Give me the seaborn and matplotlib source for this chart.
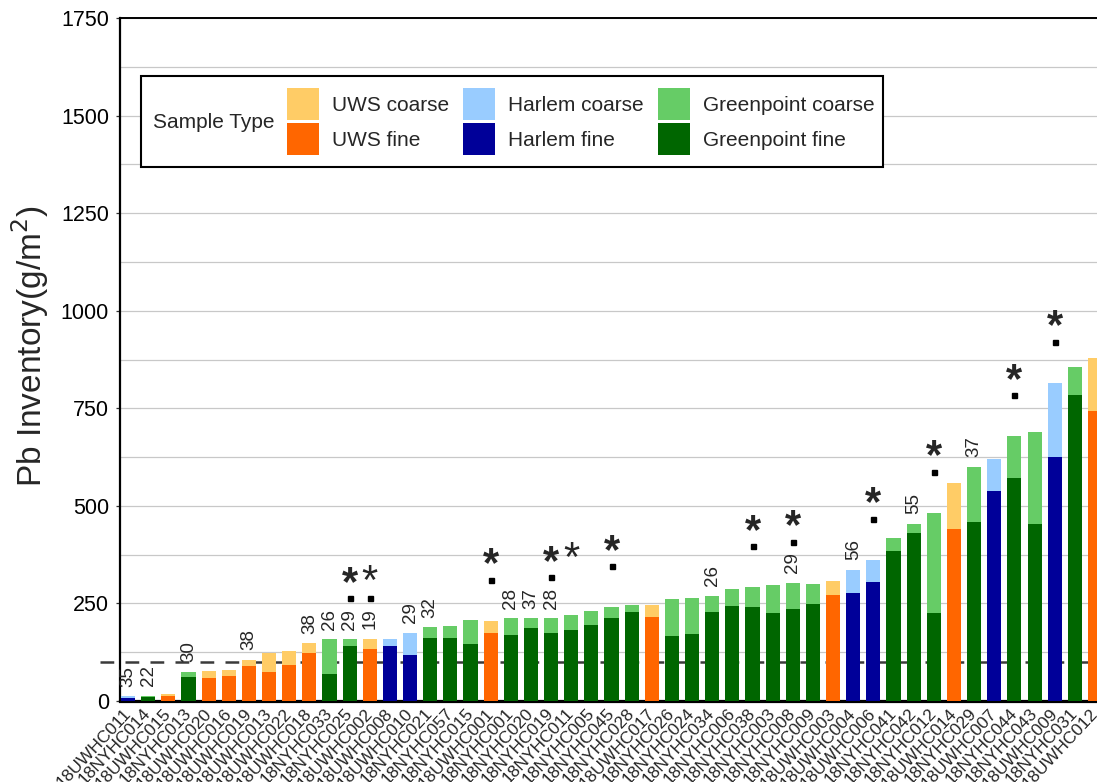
import matplotlib
matplotlib.use("Agg")
import matplotlib.pyplot as plt
import matplotlib.transforms as mtransforms
from matplotlib.patches import Patch, Rectangle
import pandas as pd
import seaborn as sns

# ---- data -------------------------------------------------------------
samples = [
    "18UWHC011", "18NYHC014", "18UWHC015", "18NYHC013", "18UWHC020",
    "18UWHC016", "18UWHC019", "18UWHC013", "18UWHC022", "18UWHC018",
    "18NYHC033", "18NYHC025", "18UWHC002", "18UWHC008", "18UWHC010",
    "18NYHC021", "18NYHC057", "18NYHC015", "18UWHC001", "18NYHC001",
    "18NYHC020", "18NYHC019", "18NYHC011", "18NYHC005", "18NYHC045",
    "18NYHC028", "18UWHC017", "18NYHC026", "18NYHC024", "18NYHC034",
    "18NYHC006", "18NYHC038", "18NYHC003", "18NYHC008", "18NYHC009",
    "18UWHC003", "18UWHC004", "18UWHC006", "18NYHC041", "18NYHC042",
    "18NYHC012", "18UWHC014", "18NYHC029", "18UWHC007", "18NYHC044",
    "18NYHC043", "18UWHC009", "18NYHC031", "18UWHC012",
]
sites = [
    "Harlem", "Greenpoint", "UWS", "Greenpoint", "UWS",
    "UWS", "UWS", "UWS", "UWS", "UWS",
    "Greenpoint", "Greenpoint", "UWS", "Harlem", "Harlem",
    "Greenpoint", "Greenpoint", "Greenpoint", "UWS", "Greenpoint",
    "Greenpoint", "Greenpoint", "Greenpoint", "Greenpoint", "Greenpoint",
    "Greenpoint", "UWS", "Greenpoint", "Greenpoint", "Greenpoint",
    "Greenpoint", "Greenpoint", "Greenpoint", "Greenpoint", "Greenpoint",
    "UWS", "Harlem", "Harlem", "Greenpoint", "Greenpoint",
    "Greenpoint", "UWS", "Greenpoint", "Harlem", "Greenpoint",
    "Greenpoint", "Harlem", "Greenpoint", "UWS",
]
fine = [
    8, 9, 12, 61, 58, 63, 89, 74, 92, 122,
    69, 140, 133, 140, 117, 161, 161, 146, 174, 169,
    187, 174, 181, 194, 212, 228, 215, 166, 171, 228,
    243, 240, 225, 236, 249, 272, 277, 305, 385, 431,
    226, 441, 459, 539, 572, 454, 626, 783, 744,
]
coarse = [
    4, 5, 6, 13, 18, 16, 16, 48, 36, 26,
    89, 18, 27, 20, 57, 28, 31, 61, 31, 43,
    25, 38, 39, 36, 28, 18, 31, 95, 93, 41,
    44, 52, 72, 67, 51, 36, 59, 57, 33, 23,
    256, 118, 141, 82, 106, 236, 190, 74, 134,
]

# numbers printed above selected bars (bar index -> text)
count_labels = {
    0: "35", 1: "22", 3: "30", 6: "38", 9: "38", 10: "26", 11: "29",
    12: "19", 14: "29", 15: "32", 19: "28", 20: "37", 21: "28",
    29: "26", 33: "29", 36: "56", 39: "55", 42: "37",
}
dot_bars = [11, 12, 18, 21, 24, 31, 33, 37, 40, 44, 46]
star_bars = [11, 12, 18, 21, 22, 24, 31, 33, 37, 40, 44, 46]
plain_star_bars = [12, 22]

reference_level = 100

site_colors = {
    "UWS": ("#FF6600", "#FFCC66"),
    "Harlem": ("#000099", "#99CCFF"),
    "Greenpoint": ("#006600", "#66CC66"),
}

df = pd.DataFrame({"sample": samples, "site": sites,
                   "fine": fine, "coarse": coarse})
df["total"] = df["fine"] + df["coarse"]

fine_pal = {s: site_colors[t][0] for s, t in zip(samples, sites)}
coarse_pal = {s: site_colors[t][1] for s, t in zip(samples, sites)}

# ---- style ------------------------------------------------------------
sns.set_theme(style="white")
plt.rcParams["font.family"] = ["Liberation Sans", "DejaVu Sans"]

W, H = 1097, 782
fig = plt.figure(figsize=(W / 100, H / 100), dpi=100)
ax = fig.add_axes([120 / W, 1 - 701 / H, (W - 120) / W, (701 - 18) / H])

# coarse fraction sits on top of the fine fraction: draw totals first
sns.barplot(data=df, x="sample", y="total", hue="sample", order=samples,
            hue_order=samples, palette=coarse_pal, width=0.7, saturation=1,
            linewidth=0, errorbar=None, legend=False, ax=ax, zorder=3)
sns.barplot(data=df, x="sample", y="fine", hue="sample", order=samples,
            hue_order=samples, palette=fine_pal, width=0.7, saturation=1,
            linewidth=0, errorbar=None, legend=False, ax=ax, zorder=3)

ax.set_xlim(-0.4, 48.1)
ax.set_ylim(0, 1750)

# gridlines every 125, labels every 250
ax.set_yticks(range(0, 1751, 250))
ax.set_yticks(range(125, 1750, 250), minor=True)
ax.yaxis.grid(True, which="both", color="#C8C8C8", linewidth=0.9, zorder=0)
ax.xaxis.grid(False)
ax.set_axisbelow(True)

ax.tick_params(axis="y", which="major", left=True, length=3, width=0.9,
               color="#333333", labelsize=15.5, pad=5, labelcolor="black")
ax.tick_params(axis="y", which="minor", left=False, length=0)
ax.tick_params(axis="x", bottom=False, length=0, pad=7)
ax.set_xticks(range(len(samples)))
ax.set_xticklabels(samples, rotation=47, ha="right", va="center",
                   rotation_mode="anchor", fontsize=12.5)

# dashed reference level (runs a little past the y axis)
ax.plot([-1.4, 49], [reference_level, reference_level], color="#3a3a3a",
        linewidth=1.8, linestyle=(0, (5.5, 4.5)), zorder=2.5, clip_on=False)

for side in ["left", "top", "bottom"]:
    ax.spines[side].set_visible(True)
    ax.spines[side].set_color("black")
ax.spines["left"].set_linewidth(1.6)
ax.spines["top"].set_linewidth(1.4)
ax.spines["bottom"].set_linewidth(2.3)
ax.spines["right"].set_visible(False)

ax.set_xlabel("")
ax.set_ylabel(r"Pb Inventory(g/m$^2$)", fontsize=24)
ax.yaxis.set_label_coords(-0.071, 0.52)

# ---- annotations above bars --------------------------------------------
totals = df["total"].tolist()
for i, txt in count_labels.items():
    ax.annotate(txt, (i, totals[i]), xytext=(0, 7), textcoords="offset points",
                rotation=90, ha="center", va="bottom", fontsize=13.5,
                zorder=5)

dot_tr = mtransforms.offset_copy(ax.transData, fig=fig, x=0, y=29.5,
                                 units="points")
ax.plot(dot_bars, [totals[i] for i in dot_bars], linestyle="none",
        marker="s", markersize=3.6, color="black", transform=dot_tr,
        zorder=5, clip_on=False)

star_tr = mtransforms.offset_copy(ax.transData, fig=fig, x=0, y=32,
                                  units="points")
for i in star_bars:
    ax.text(i, totals[i], "*", transform=star_tr, ha="center",
            va="baseline", fontsize=30,
            fontweight="normal" if i in plain_star_bars else "bold",
            zorder=5)

# ---- legend --------------------------------------------------------------
handles, labels = [], []
for site, name in [("UWS", "UWS"), ("Harlem", "Harlem"),
                   ("Greenpoint", "Greenpoint")]:
    handles += [Patch(facecolor=site_colors[site][1], linewidth=0),
                Patch(facecolor=site_colors[site][0], linewidth=0)]
    labels += [f"{name} coarse", f"{name} fine"]

fig.patches.append(Rectangle((141 / W, 1 - 167 / H), 742 / W, 91 / H,
                             transform=fig.transFigure, facecolor="white",
                             edgecolor="black", linewidth=1.5, zorder=4))
fig.text(153 / W, 1 - 122 / H, "Sample Type", ha="left", va="center",
         fontsize=15, zorder=6)
fig.legend(handles, labels, ncol=3, loc="upper left",
           bbox_to_anchor=(287 / W, 1 - 88 / H),
           bbox_transform=fig.transFigure, frameon=False, borderpad=0,
           borderaxespad=0, fontsize=15, handlelength=1.54,
           handleheight=1.99, handletextpad=0.62, columnspacing=0.67,
           labelspacing=0.14).set_zorder(6)

fig.savefig("out.png", dpi=100)
